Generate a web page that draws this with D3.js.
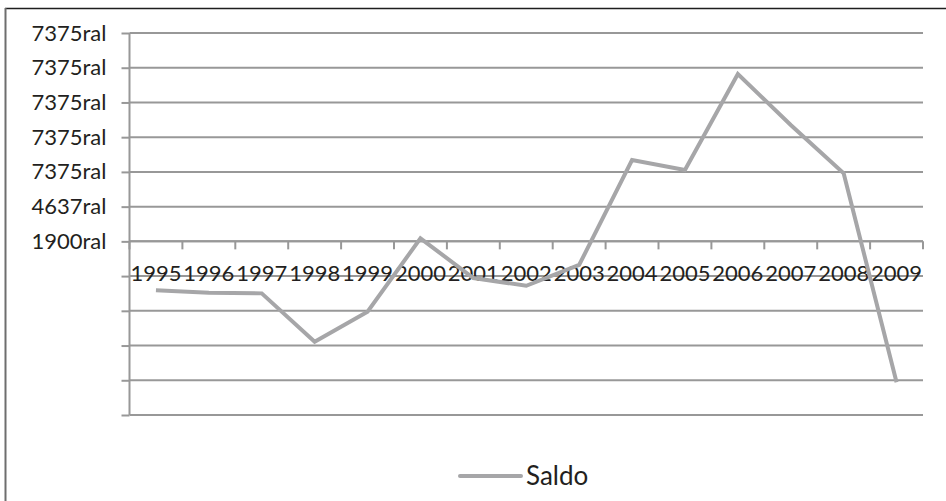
<!DOCTYPE html>
<html>
<head>
<meta charset="utf-8">
<script src="https://cdn.jsdelivr.net/npm/d3@7/dist/d3.min.js"></script>
<style>
  html, body { margin: 0; padding: 0; background: #fff; }
  svg { display: block; }
  text { font-family: Lato, "Open Sans", sans-serif; fill: #231f20; }
</style>
</head>
<body>
<svg id="chart" width="946" height="501"></svg>
<script>
// Yearly balance ("Saldo")
const years = ["1995","1996","1997","1998","1999","2000","2001","2002","2003","2004","2005","2006","2007","2008","2009"];
const saldo = [-1960, -2150, -2200, -6010, -3650, 2140, -990, -1600, 40, 8310, 7520, 15090, 11070, 7260, -9210];

// Value axis: ticks every 2737.5 starting from 1900, labels as printed
const tickValues = [-11787.5, -9050, -6312.5, -3575, -837.5, 1900, 4637.5, 7375, 10112.5, 12850, 15587.5, 18325];
const tickLabels = ["", "", "", "", "", "1900ral", "4637ral", "7375ral", "7375ral", "7375ral", "7375ral", "7375ral"];
const axisCross = 1900;
const seriesName = "Saldo";

const svg = d3.select("#chart");
const plot = { left: 129.5, right: 923, top: 33, bottom: 415 };

const x = d3.scaleBand().domain(years).range([plot.left, plot.right]).padding(0);
const y = d3.scaleLinear().domain([tickValues[0], tickValues[tickValues.length - 1]])
  .range([plot.bottom, plot.top]);

// outer frame (top and left edges)
svg.append("line").attr("x1", 5).attr("x2", 946).attr("y1", 8.5).attr("y2", 8.5)
  .attr("stroke", "#1e1e1e").attr("stroke-width", 1.5);
svg.append("line").attr("x1", 5.5).attr("x2", 5.5).attr("y1", 8).attr("y2", 501)
  .attr("stroke", "#6e6e6e").attr("stroke-width", 2);

// horizontal gridlines
svg.append("g").selectAll("line").data(tickValues).join("line")
  .attr("x1", plot.left).attr("x2", plot.right)
  .attr("y1", d => y(d)).attr("y2", d => y(d))
  .attr("stroke", "#989898").attr("stroke-width", 2);

// value axis
const yAxis = d3.axisLeft(y).tickValues(tickValues)
  .tickFormat((d, i) => tickLabels[i]).tickSize(8).tickPadding(15);
const gy = svg.append("g").attr("transform", `translate(${plot.left},0)`).call(yAxis);
gy.select(".domain").attr("stroke", "#989898").attr("stroke-width", 2)
  .attr("d", `M0,${plot.top}V${plot.bottom}`);
gy.selectAll(".tick line").attr("stroke", "#989898").attr("stroke-width", 2);
gy.selectAll(".tick text").style("font-size", "22px").attr("fill", "#231f20");

// category axis crossing at 1900, ticks at band boundaries
const gx = svg.append("g").attr("transform", `translate(0,${y(axisCross)})`);
const bounds = years.map(d => x(d)).concat([x(years[years.length - 1]) + x.bandwidth()]);
gx.append("line").attr("x1", plot.left).attr("x2", plot.right)
  .attr("stroke", "#989898").attr("stroke-width", 2);
gx.selectAll("line.tk").data(bounds).join("line").attr("class", "tk")
  .attr("x1", d => d).attr("x2", d => d).attr("y1", 0).attr("y2", 8)
  .attr("stroke", "#989898").attr("stroke-width", 2);
gx.selectAll("text").data(years).join("text")
  .attr("x", d => x(d) + x.bandwidth() / 2).attr("y", 40)
  .attr("text-anchor", "middle").style("font-size", "22px")
  .text(d => d);

// series line
const line = d3.line().x((d, i) => x(years[i]) + x.bandwidth() / 2).y(d => y(d));
svg.append("path").datum(saldo).attr("d", line)
  .attr("fill", "none").attr("stroke", "#a6a6a8").attr("stroke-width", 4)
  .attr("stroke-linejoin", "miter");

// legend
const lg = svg.append("g");
lg.append("line").attr("x1", 460).attr("x2", 521).attr("y1", 476).attr("y2", 476)
  .attr("stroke", "#a6a6a8").attr("stroke-width", 4).attr("stroke-linecap", "round");
lg.append("text").attr("x", 526).attr("y", 485).style("font-size", "26px").text(seriesName);
</script>
</body>
</html>
